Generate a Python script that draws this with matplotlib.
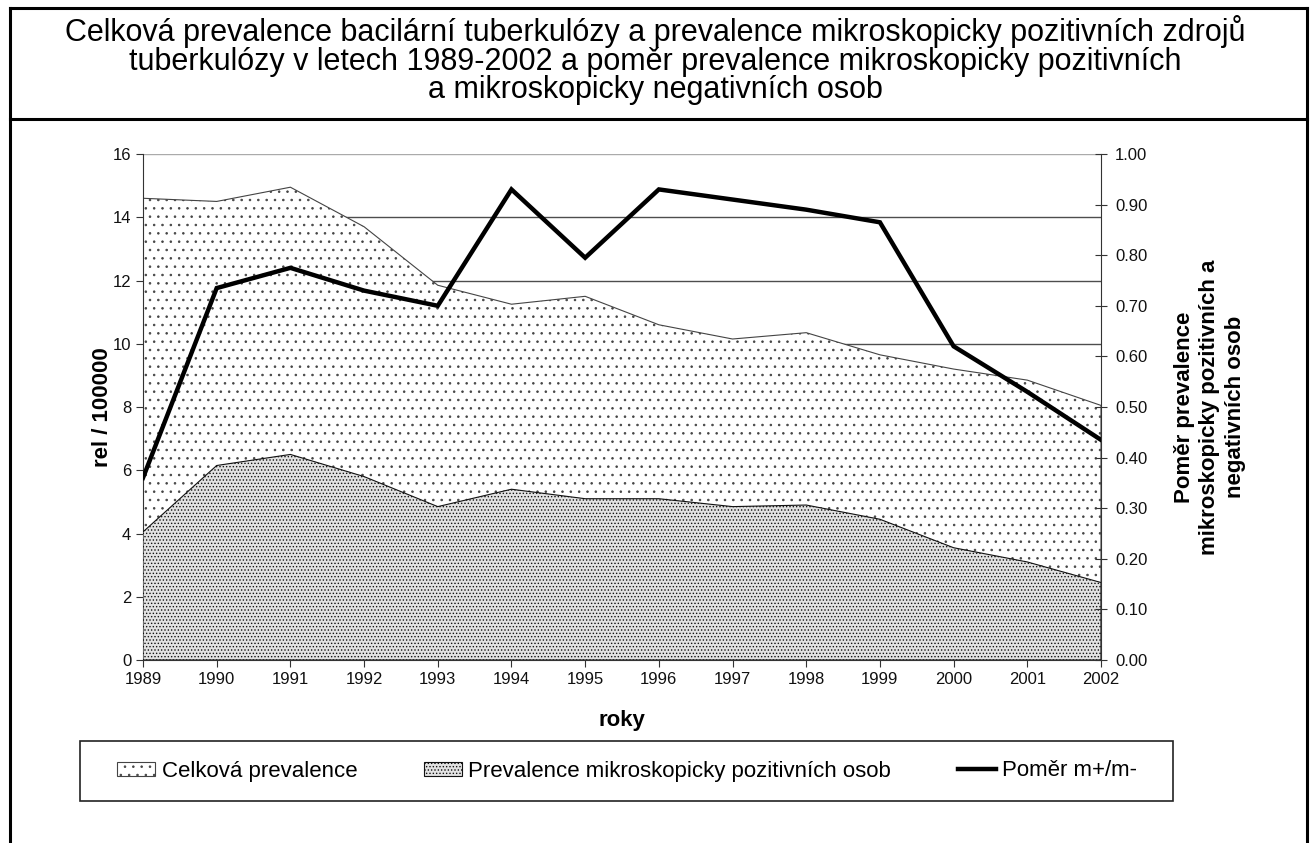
import numpy as np
import matplotlib
matplotlib.use("Agg")
import matplotlib.pyplot as plt
from matplotlib.lines import Line2D
from matplotlib.patches import Patch, Rectangle

plt.rcParams['font.family'] = ['Liberation Sans', 'DejaVu Sans']
plt.rcParams['hatch.linewidth'] = 0.6

# data
roky = [1989, 1990, 1991, 1992, 1993, 1994, 1995, 1996, 1997, 1998, 1999, 2000, 2001, 2002]
celkova = [14.6, 14.5, 14.95, 13.7, 11.85, 11.25, 11.5, 10.6, 10.15, 10.35, 9.65, 9.2, 8.85, 8.05]
pozitivni = [4.05, 6.15, 6.5, 5.8, 4.85, 5.4, 5.1, 5.1, 4.85, 4.9, 4.45, 3.55, 3.1, 2.45]
pomer = [0.36, 0.735, 0.775, 0.73, 0.70, 0.93, 0.795, 0.93, 0.91, 0.89, 0.865, 0.62, 0.53, 0.435]

title = ("Celková prevalence bacilární tuberkulózy a prevalence mikroskopicky pozitivních zdrojů\n"
         "tuberkulózy v letech 1989-2002 a poměr prevalence mikroskopicky pozitivních\n"
         "a mikroskopicky negativních osob")

W, H = 1311, 843
fig = plt.figure(figsize=(W / 100, H / 100), dpi=100)

def fx(px):
    return px / W

def fy(py):
    return 1 - py / H

ax = fig.add_axes([fx(143), fy(660), fx(1101 - 143), (660 - 154) / H])

dense_bg = '#e2e2e2'
ax.fill_between(roky, celkova, 0, facecolor='white', edgecolor='#444444',
                hatch='..', linewidth=0.8, zorder=2)
ax.fill_between(roky, pozitivni, 0, facecolor=dense_bg, edgecolor='#111111',
                hatch='.....', linewidth=0.8, zorder=3)

ax.set_xlim(1989, 2002)
ax.set_ylim(0, 16)
ax.set_xticks(roky)
ax.set_yticks(np.arange(0, 17, 2))
ax.grid(axis='y', color='#4d4d4d', lw=1.0)
ax.yaxis.get_gridlines()[-1].set_color('#aaaaaa')
ax.set_axisbelow(True)
for s in ['top', 'right']:
    ax.spines[s].set_visible(False)
for s in ['left', 'bottom']:
    ax.spines[s].set_color('#333333')
ax.tick_params(axis='both', labelsize=12, length=5, color='#333333', labelcolor='#111111')
ax.set_xlabel('roky', fontsize=16, fontweight='bold', labelpad=17)
ax.set_ylabel('rel / 100000', fontsize=16, fontweight='bold', labelpad=0)

ax2 = ax.twinx()
ax2.plot(roky, pomer, color='black', lw=3.2, zorder=5, solid_joinstyle='miter')
ax2.set_ylim(0, 1)
ax2.set_yticks(np.arange(0, 1.01, 0.1))
ax2.set_yticklabels([f"{v:.2f}" for v in np.arange(0, 1.01, 0.1)])
for s in ['top', 'left', 'bottom']:
    ax2.spines[s].set_visible(False)
ax2.spines['right'].set_color('#333333')
ax2.tick_params(axis='y', direction='inout', length=8, labelsize=12,
                color='#333333', labelcolor='#111111', pad=6)
ax2.set_ylabel('Poměr prevalence\nmikroskopicky pozitivních a\nnegativních osob',
               fontsize=16, fontweight='bold', labelpad=19, linespacing=1.3)

# title box and frame
fig.text(0.5, fy(15), title, ha='center', va='top', fontsize=22,
         linespacing=0.94)
for (x0, y0, x1, y1) in [(10, 8, 1307, 8), (10, 119, 1307, 119),
                         (10, 8, 10, 843), (1307, 8, 1307, 843)]:
    fig.add_artist(Line2D([fx(x0), fx(x1)], [fy(y0), fy(y1)], color='black', lw=2.2))

# legend
fig.add_artist(Rectangle((fx(80), fy(801)), fx(1173 - 80), (801 - 741) / H,
                         facecolor='white', edgecolor='#222222', lw=1.2))
handles = [Patch(facecolor='white', edgecolor='#444444', hatch='..', lw=0.8),
           Patch(facecolor=dense_bg, edgecolor='#111111', hatch='.....', lw=0.8),
           Line2D([], [], color='black', lw=3.2)]
labels = ['Celková prevalence', 'Prevalence mikroskopicky pozitivních osob', 'Poměr m+/m-']
fig.legend(handles, labels, loc='center left', bbox_to_anchor=(fx(106), fy(771)),
           ncol=3, frameon=False, fontsize=16, handlelength=1.7, handleheight=0.6,
           handletextpad=0.3, columnspacing=3.0, borderpad=0)

fig.savefig('out.png', dpi=100)
